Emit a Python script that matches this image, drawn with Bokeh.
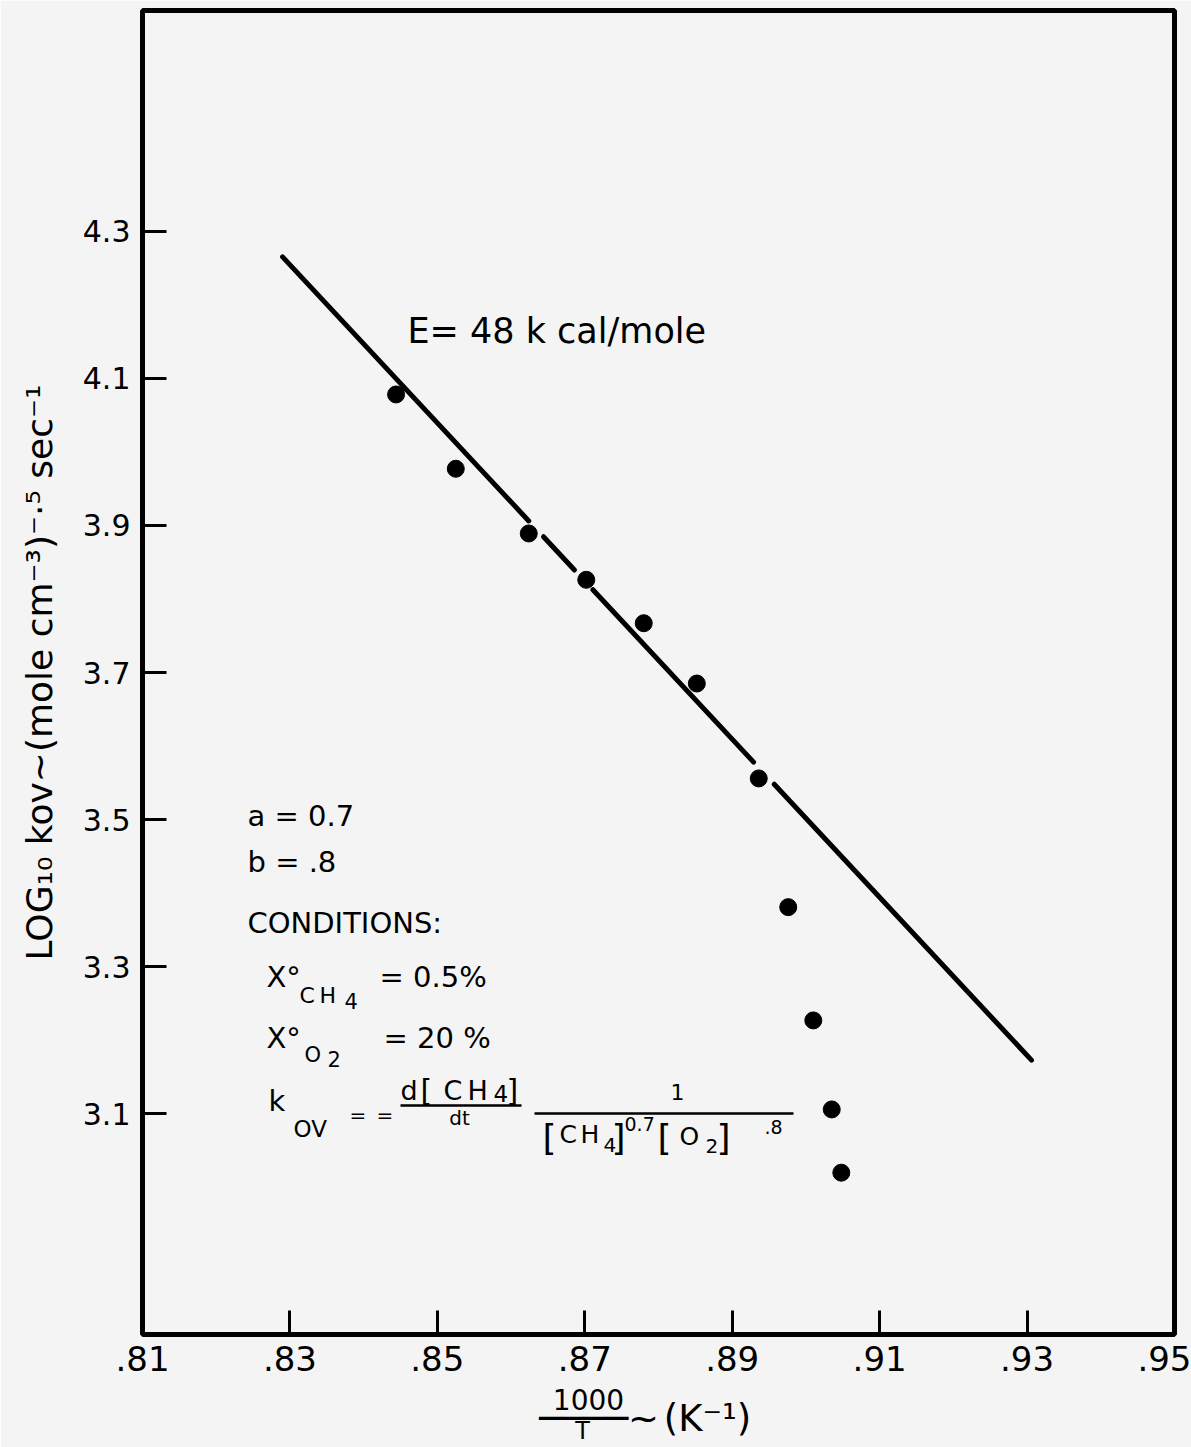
import numpy as np
from bokeh.plotting import figure
from bokeh.models import (Label, FixedTicker, CustomJSTickFormatter, Range1d, Arrow,
                          LinearAxis)
from bokeh.embed import file_html
from bokeh.resources import INLINE

# ---------------- data ----------------
inv_T = [0.8444, 0.8525, 0.8624, 0.8702, 0.8780, 0.8852, 0.8936, 0.8976, 0.9010, 0.9035, 0.9048]
log_kov = [4.078, 3.977, 3.889, 3.826, 3.767, 3.685, 3.556, 3.381, 3.227, 3.106, 3.020]

fit_x = [0.8290, 0.9306]
fit_y = [4.265, 3.173]
fit_gaps = [(0.8624, 0.8644), (0.8686, 0.8711), (0.8929, 0.8957)]

x_ticks = [0.81, 0.83, 0.85, 0.87, 0.89, 0.91, 0.93, 0.95]
y_ticks = [3.1, 3.3, 3.5, 3.7, 3.9, 4.1, 4.3]
x_range = (0.81, 0.95)
y_range = (2.8, 4.6)

y_title = "LOG₁₀ kov~(mole cm⁻³)⁻·⁵ sec⁻¹"
x_title_num = "1000"
x_title_den = "T"
x_title_rest = ["────", "~", "(K⁻¹)"]

FONT = "DejaVu Sans"
BG = "#f4f4f4"

# frame edges in page pixels
L_PX, R_PX, T_PX, B_PX = 142, 1174, 10, 1334
W, H = 1191, 1447

p = figure(width=W, height=H, title=None,
           x_range=Range1d(*x_range), y_range=Range1d(*y_range),
           output_backend="svg", toolbar_location=None,
           min_border_left=L_PX, min_border_right=W - R_PX,
           min_border_top=T_PX, min_border_bottom=H - B_PX)
p.background_fill_color = BG
p.border_fill_color = BG
p.outline_line_color = "black"
p.outline_line_width = 5
p.grid.visible = False

for ax in (p.xaxis[0], p.yaxis[0]):
    ax.axis_line_color = None
    ax.major_tick_in = 24
    ax.major_tick_out = 0
    ax.major_tick_line_width = 3
    ax.major_tick_line_color = "black"
    ax.minor_tick_line_color = None
    ax.major_label_text_font = FONT
    ax.major_label_text_color = "black"

p.xaxis.ticker = FixedTicker(ticks=x_ticks)
p.xaxis.formatter = CustomJSTickFormatter(code="return tick.toFixed(2).replace(/^0/, '')")
p.xaxis.major_label_text_font_size = "34px"
p.xaxis.major_label_standoff = 11

p.yaxis.ticker = FixedTicker(ticks=y_ticks)
p.yaxis.formatter = CustomJSTickFormatter(code="return tick.toFixed(1)")
p.yaxis.major_label_text_font_size = "30px"
p.yaxis.major_label_standoff = 12
p.yaxis.axis_label = y_title
p.yaxis.axis_label_text_font = FONT
p.yaxis.axis_label_text_font_size = "36px"
p.yaxis.axis_label_text_font_style = "normal"
p.yaxis.axis_label_text_color = "black"
p.yaxis.axis_label_standoff = 20


def dx(rx):
    return x_range[0] + (rx - L_PX) / (R_PX - L_PX) * (x_range[1] - x_range[0])


def dy(ry):
    return y_range[1] - (ry - T_PX) / (B_PX - T_PX) * (y_range[1] - y_range[0])


# ---------------- x-axis title built from stacked text-only axes ----------------
def text_axis(ticks, labels, size, standoff):
    ax = LinearAxis(ticker=FixedTicker(ticks=ticks),
                    formatter=CustomJSTickFormatter(args=dict(labels=labels),
                                                    code="return labels[index]"))
    ax.axis_line_color = None
    ax.major_tick_line_color = None
    ax.minor_tick_line_color = None
    ax.major_tick_in = 0
    ax.major_tick_out = 0
    ax.major_label_text_font = FONT
    ax.major_label_text_font_size = f"{size}px"
    ax.major_label_text_color = "black"
    ax.major_label_standoff = standoff
    p.add_layout(ax, "below")


text_axis([dx(588)], [x_title_num], 28, 15)
text_axis([dx(583), dx(643), dx(707)], x_title_rest, 37, -16)
text_axis([dx(582)], [x_title_den], 24, -26)

# ---------------- fitted line (broken around some points) ----------------
breaks = [fit_x[0]] + [g for gap in fit_gaps for g in gap] + [fit_x[1]]
xs, ys = [], []
for i in range(0, len(breaks), 2):
    seg_x = [breaks[i], breaks[i + 1]]
    xs.append(seg_x)
    ys.append(list(np.interp(seg_x, fit_x, fit_y)))
p.multi_line(xs, ys, line_color="black", line_width=5, line_cap="round")

# ---------------- data points ----------------
p.scatter(inv_T, log_kov, size=17, marker="circle", fill_color="black", line_color="black")

# ---------------- annotations ----------------
BASE_FIX = 0.37  # the renderer places the alphabetic baseline a bit low


def lab(text, rx, ry, size, align="left"):
    p.add_layout(Label(x=dx(rx), y=dy(ry - BASE_FIX * size), text=text, text_font=FONT,
                       text_font_size=f"{size}px", text_align=align,
                       text_baseline="alphabetic", text_color="black"))


def bar(rx0, rx1, ry, w=2.5):
    p.add_layout(Arrow(end=None, x_start=dx(rx0), y_start=dy(ry), x_end=dx(rx1), y_end=dy(ry),
                       line_color="black", line_width=w))


lab("E= 48 k cal/mole", 407, 343, 35)

lab("a = 0.7", 247, 826, 29)
lab("b = .8", 247, 872, 29)
lab("CONDITIONS:", 247, 933, 29)

lab("X°", 266, 987, 29)
lab("C", 299, 1003, 22)
lab("H", 319, 1003, 22)
lab("4", 344, 1008, 21)
lab("= 0.5%", 379, 987, 29)

lab("X°", 266, 1048, 29)
lab("O", 304, 1062, 21)
lab("2", 327, 1066, 21)
lab("= 20 %", 383, 1048, 29)

lab("k", 268, 1111, 29)
lab("OV", 293, 1137, 23)
lab("=", 349, 1122, 20)
lab("=", 376, 1122, 20)

# d[CH4] / dt
lab("d", 400, 1100, 27)
lab("[", 420, 1101, 30)
lab("C", 443, 1100, 27)
lab("H", 467, 1100, 27)
lab("4", 493, 1102, 23)
lab("]", 506, 1101, 30)
bar(400, 521, 1105)
lab("dt", 459, 1125, 20, align="center")

# 1 / [CH4]^0.7 [O2]^.8
lab("1", 677, 1100, 22, align="center")
bar(534, 793, 1113)
lab("[", 542, 1150, 36)
lab("C", 559, 1143, 25)
lab("H", 580, 1143, 25)
lab("4", 603, 1152, 20)
lab("]", 611, 1150, 36)
lab("0.7", 624, 1131, 19)
lab("[", 657, 1150, 36)
lab("O", 679, 1145, 25)
lab("2", 705, 1153, 20)
lab("]", 716, 1150, 36)
lab(".8", 764, 1134, 19)

open("out.html", "w").write(file_html(p, INLINE))
